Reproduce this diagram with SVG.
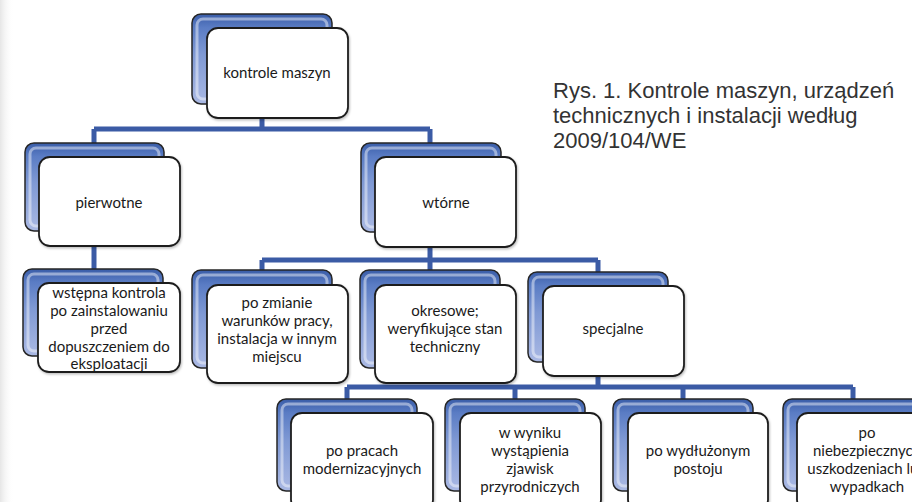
<svg xmlns="http://www.w3.org/2000/svg" width="912" height="502" viewBox="0 0 912 502">
  <defs>
    <linearGradient id="bg" x1="0" y1="0" x2="0" y2="1">
      <stop offset="0" stop-color="#3a5da8"/>
      <stop offset="0.15" stop-color="#5a7cc4"/>
      <stop offset="0.45" stop-color="#7f99d4"/>
      <stop offset="1" stop-color="#aab9e4"/>
    </linearGradient>
    <linearGradient id="edge" x1="0" y1="0" x2="1" y2="0">
      <stop offset="0" stop-color="#e6e6e6"/>
      <stop offset="1" stop-color="#ffffff" stop-opacity="0"/>
    </linearGradient>
    <filter id="sh" x="-10%" y="-10%" width="130%" height="130%">
      <feDropShadow dx="1" dy="1.5" stdDeviation="1.2" flood-color="#000" flood-opacity="0.25"/>
    </filter>
  </defs>
  <style>
    .back { fill: url(#bg); stroke: #262626; stroke-width: 1.5; }
    .hl { fill: none; stroke: #ffffff; stroke-opacity: 0.45; stroke-width: 3; }
    .front { fill: #ffffff; stroke: #1e1e1e; stroke-width: 1.8; filter: url(#sh); }
    .t { font-family: Lato, "Open Sans", "Liberation Sans", sans-serif; font-size: 15px; fill: #1a1a1a; text-anchor: middle; }
    .cap { font-family: "Liberation Sans", Arial, sans-serif; font-size: 22px; fill: #333333; }
    .conn { fill: none; stroke: #3b5ba5; stroke-width: 5; }
  </style>
  <rect width="912" height="502" fill="#ffffff"/>
  <rect width="14" height="502" fill="url(#edge)"/>

  <g id="connectors">
    <path class="conn" d="M262,110 V129 M94,129 H430 M94,129 V150 M430,129 V150"/>
    <path class="conn" d="M94,240 V275"/>
    <path class="conn" d="M430,240 V260 M262,260 H598 M262,260 V276 M430,260 V276 M598,260 V278"/>
    <path class="conn" d="M598,370 V387 M347,387 H853 M347,387 V405 M515,387 V405 M683,387 V405 M853,387 V405"/>
  </g>

  <g id="n-kontrole">
    <rect class="back" x="192" y="14" width="140" height="90" rx="9"/>
    <rect class="hl" x="197" y="19" width="130" height="80" rx="6"/>
    <rect class="front" x="207" y="28" width="141" height="90" rx="11"/>
    <text class="t" x="277" y="78">kontrole maszyn</text>
  </g>

  <g id="n-pierwotne">
    <rect class="back" x="25" y="143" width="139" height="88" rx="9"/>
    <rect class="hl" x="30" y="148" width="129" height="78" rx="6"/>
    <rect class="front" x="39" y="157" width="141" height="89" rx="11"/>
    <text class="t" x="109" y="208">pierwotne</text>
  </g>

  <g id="n-wtorne">
    <rect class="back" x="361" y="143" width="140" height="89" rx="9"/>
    <rect class="hl" x="366" y="148" width="130" height="79" rx="6"/>
    <rect class="front" x="375" y="157" width="141" height="90" rx="11"/>
    <text class="t" x="446" y="208">wtórne</text>
  </g>

  <g id="n-wstepna">
    <rect class="back" x="23" y="269" width="140" height="87" rx="9"/>
    <rect class="hl" x="28" y="274" width="130" height="77" rx="6"/>
    <rect class="front" x="38" y="283" width="142" height="89" rx="11"/>
    <text class="t" x="109" y="298">wstępna kontrola</text>
    <text class="t" x="109" y="316">po zainstalowaniu</text>
    <text class="t" x="109" y="334">przed</text>
    <text class="t" x="109" y="352">dopuszczeniem do</text>
    <text class="t" x="109" y="369">eksploatacji</text>
  </g>

  <g id="n-po-zmianie">
    <rect class="back" x="192" y="270" width="140" height="98" rx="9"/>
    <rect class="hl" x="197" y="275" width="130" height="88" rx="6"/>
    <rect class="front" x="207" y="285" width="141" height="98" rx="11"/>
    <text class="t" x="277" y="308">po zmianie</text>
    <text class="t" x="277" y="326">warunków pracy,</text>
    <text class="t" x="277" y="344">instalacja w innym</text>
    <text class="t" x="277" y="362">miejscu</text>
  </g>

  <g id="n-okresowe">
    <rect class="back" x="360" y="270" width="140" height="98" rx="9"/>
    <rect class="hl" x="365" y="275" width="130" height="88" rx="6"/>
    <rect class="front" x="375" y="285" width="141" height="98" rx="11"/>
    <text class="t" x="445" y="316">okresowe;</text>
    <text class="t" x="445" y="334">weryfikujące stan</text>
    <text class="t" x="445" y="352">techniczny</text>
  </g>

  <g id="n-specjalne">
    <rect class="back" x="528" y="272" width="140" height="90" rx="9"/>
    <rect class="hl" x="533" y="277" width="130" height="80" rx="6"/>
    <rect class="front" x="543" y="286" width="141" height="90" rx="11"/>
    <text class="t" x="613" y="334">specjalne</text>
  </g>

  <g id="n-po-pracach">
    <rect class="back" x="277" y="399" width="140" height="92" rx="9"/>
    <rect class="hl" x="282" y="404" width="130" height="82" rx="6"/>
    <rect class="front" x="291" y="413" width="142" height="98" rx="11"/>
    <text class="t" x="362" y="456">po pracach</text>
    <text class="t" x="362" y="474">modernizacyjnych</text>
  </g>

  <g id="n-w-wyniku">
    <rect class="back" x="445" y="399" width="140" height="92" rx="9"/>
    <rect class="hl" x="450" y="404" width="130" height="82" rx="6"/>
    <rect class="front" x="460" y="413" width="141" height="98" rx="11"/>
    <text class="t" x="530" y="438">w wyniku</text>
    <text class="t" x="530" y="456">wystąpienia</text>
    <text class="t" x="530" y="474">zjawisk</text>
    <text class="t" x="530" y="492">przyrodniczych</text>
  </g>

  <g id="n-po-wydluzonym">
    <rect class="back" x="613" y="399" width="140" height="92" rx="9"/>
    <rect class="hl" x="618" y="404" width="130" height="82" rx="6"/>
    <rect class="front" x="628" y="413" width="140" height="98" rx="11"/>
    <text class="t" x="698" y="456">po wydłużonym</text>
    <text class="t" x="698" y="474">postoju</text>
  </g>

  <g id="n-po-niebezpiecznych">
    <rect class="back" x="783" y="399" width="140" height="92" rx="9"/>
    <rect class="hl" x="788" y="404" width="130" height="82" rx="6"/>
    <rect class="front" x="797" y="413" width="141" height="98" rx="11"/>
    <text class="t" x="867" y="438">po</text>
    <text class="t" x="867" y="456">niebezpiecznych</text>
    <text class="t" x="867" y="474">uszkodzeniach lub</text>
    <text class="t" x="867" y="492">wypadkach</text>
  </g>

  <g id="caption">
    <text class="cap" x="553" y="98">Rys. 1. Kontrole maszyn, urządzeń</text>
    <text class="cap" x="553" y="123">technicznych i instalacji według</text>
    <text class="cap" x="553" y="148">2009/104/WE</text>
  </g>
</svg>
